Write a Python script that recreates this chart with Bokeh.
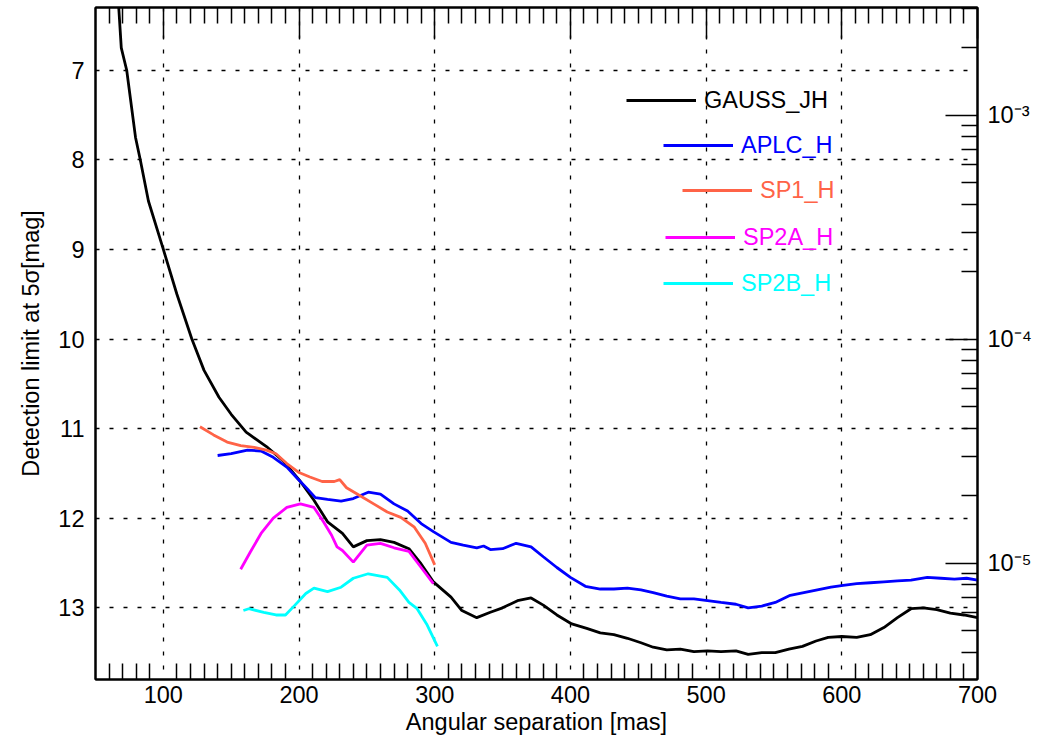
from bokeh.plotting import figure
from bokeh.models import (Range1d, LinearAxis, LogAxis, LogScale, FixedTicker,
                          Legend, LegendItem, CustomJSTickFormatter, CustomLabelingPolicy)
from bokeh.embed import file_html
from bokeh.resources import INLINE

# ---------------- data ----------------
gauss_x = [66.3, 69, 73, 79.5, 83, 89, 100, 110, 121, 130,
           141, 150, 161, 176, 189, 201, 211, 221, 232, 240,
           250, 260, 270, 281, 290, 299, 312, 320, 331, 341,
           350, 361, 371, 380, 390, 401, 412, 422, 432, 442,
           452, 461, 471, 481, 491, 501, 511, 522, 531, 541,
           551, 561, 571, 581, 590, 600, 611, 621, 631, 641,
           651, 660, 670, 680, 690, 700]
gauss_y = [6.1, 6.75, 7.0, 7.75, 8.0, 8.46, 9.0, 9.5, 10.0, 10.35,
           10.65, 10.84, 11.04, 11.2, 11.37, 11.59, 11.8, 12.04, 12.17, 12.32,
           12.25, 12.24, 12.27, 12.34, 12.51, 12.71, 12.88, 13.03, 13.11, 13.05,
           13.0, 12.92, 12.89, 12.97, 13.08, 13.18, 13.23, 13.28, 13.30, 13.34,
           13.39, 13.44, 13.47, 13.46, 13.49, 13.48, 13.49, 13.48, 13.52, 13.50,
           13.50, 13.46, 13.43, 13.37, 13.33, 13.32, 13.33, 13.30, 13.22, 13.11,
           13.01, 13.0, 13.02, 13.06, 13.08, 13.11]

aplc_x = [140, 150, 162, 172, 181, 191, 199, 206, 212, 221,
          231, 240, 251, 260, 270, 280, 290, 299, 312, 321,
          331, 336, 341, 350, 360, 371, 380, 390, 400, 411,
          422, 432, 442, 452, 461, 471, 481, 491, 501, 511,
          522, 531, 541, 551, 562, 572, 582, 592, 601, 611,
          621, 631, 641, 651, 663, 673, 683, 692, 700]
aplc_y = [11.30, 11.28, 11.24, 11.25, 11.32, 11.43, 11.56, 11.67, 11.77, 11.79,
          11.81, 11.78, 11.71, 11.73, 11.84, 11.92, 12.06, 12.15, 12.27, 12.30,
          12.33, 12.31, 12.35, 12.34, 12.28, 12.32, 12.43, 12.55, 12.66, 12.76,
          12.79, 12.79, 12.78, 12.80, 12.83, 12.87, 12.90, 12.90, 12.92, 12.94,
          12.96, 13.0, 12.98, 12.94, 12.86, 12.83, 12.80, 12.77, 12.75, 12.73,
          12.72, 12.71, 12.70, 12.69, 12.66, 12.67, 12.68, 12.67, 12.69]

sp1_x = [127, 137, 147, 157, 167, 176, 183, 191, 200, 208,
         217, 226, 230, 235, 245, 255, 265, 275, 285, 293, 300]
sp1_y = [10.98, 11.07, 11.15, 11.19, 11.21, 11.24, 11.28, 11.39, 11.49, 11.54,
         11.59, 11.59, 11.57, 11.66, 11.75, 11.84, 11.93, 11.99, 12.10, 12.28, 12.52]

sp2a_x = [157, 164, 172, 181, 191, 201, 211, 218, 224, 228,
          232, 240, 250, 260, 270, 281, 290, 299]
sp2a_y = [12.57, 12.38, 12.17, 12.0, 11.88, 11.84, 11.88, 12.04, 12.19, 12.32,
          12.36, 12.49, 12.30, 12.28, 12.33, 12.37, 12.55, 12.73]

sp2b_x = [159, 163, 174, 183, 190, 197, 205, 211, 221, 231,
          240, 251, 265, 274, 281, 287, 294, 302]
sp2b_y = [13.03, 13.01, 13.05, 13.08, 13.08, 12.97, 12.84, 12.78, 12.82, 12.77,
          12.67, 12.62, 12.66, 12.80, 12.94, 13.01, 13.18, 13.43]

series_names = ["GAUSS_JH", "APLC_H", "SP1_H", "SP2A_H", "SP2B_H"]
series_colors = ["#000000", "#0000ff", "#ff6347", "#ff00ff", "#00ffff"]

x_major = [100, 200, 300, 400, 500, 600, 700]
x_minor = [v for v in range(60, 701, 10) if v % 100 != 0]
y_major = [7, 8, 9, 10, 11, 12, 13]
contrast_major = [1e-5, 1e-4, 1e-3]
contrast_minor = [m * 10.0 ** e for e in (-6, -5, -4, -3) for m in range(2, 10)]

x_lim = (50, 700)
mag_lim = (13.8, 6.3)   # bottom, top

FONT = "Liberation Sans"
FS = "23.5px"

# ---------------- figure ----------------
p = figure(frame_width=882, frame_height=672,
           x_range=Range1d(*x_lim), y_range=Range1d(*mag_lim),
           output_backend="svg", toolbar_location=None,
           min_border_left=95, min_border_right=50,
           min_border_top=7, min_border_bottom=0)
p.extra_y_ranges = {"contrast": Range1d(10 ** (-0.4 * mag_lim[0]), 10 ** (-0.4 * mag_lim[1]))}
p.extra_y_scales = {"contrast": LogScale()}
p.outline_line_color = "black"
p.outline_line_width = 2
p.background_fill_color = "white"
p.border_fill_color = "white"

# bottom axis
xa = p.xaxis[0]
xa.ticker = FixedTicker(ticks=x_major, minor_ticks=x_minor)
xa.major_tick_in = 0
xa.major_tick_out = 0
xa.minor_tick_in = 16
xa.minor_tick_out = 0
xa.minor_tick_line_width = 1.5
xa.minor_tick_line_color = "black"
xa.axis_line_width = 2
xa.axis_line_color = "black"
xa.major_label_text_font = FONT
xa.major_label_text_font_size = FS
xa.major_label_text_color = "black"
xa.major_label_standoff = 6
xa.axis_label = "Angular separation [mas]"
xa.axis_label_text_font = FONT
xa.axis_label_text_font_size = FS
xa.axis_label_text_font_style = "normal"
xa.axis_label_text_color = "black"
xa.axis_label_standoff = 3

# left axis
ya = p.yaxis[0]
ya.ticker = FixedTicker(ticks=y_major)
ya.major_tick_in = 0
ya.major_tick_out = 0
ya.minor_tick_in = 0
ya.minor_tick_out = 0
ya.axis_line_width = 2
ya.axis_line_color = "black"
ya.major_label_text_font = FONT
ya.major_label_text_font_size = FS
ya.major_label_text_color = "black"
ya.major_label_standoff = 11
ya.axis_label = "Detection limit at 5σ[mag]"
ya.axis_label_text_font = FONT
ya.axis_label_text_font_size = FS
ya.axis_label_text_font_style = "normal"
ya.axis_label_text_color = "black"
ya.axis_label_standoff = 11

# top axis (ticks only, labels suppressed by the labeling policy)
ta = LinearAxis(ticker=FixedTicker(ticks=x_major, minor_ticks=x_minor))
ta.major_tick_in = 31
ta.major_tick_out = 0
ta.minor_tick_in = 16
ta.minor_tick_out = 0
ta.major_tick_line_width = 1.5
ta.minor_tick_line_width = 1.5
ta.axis_line_width = 2
ta.major_label_standoff = 0
ta.major_label_text_font_size = "1px"
ta.major_label_policy = CustomLabelingPolicy(code="""
const n = indices.size;
for (let i = 0; i < n; i++) indices.unset(i);
return indices;
""")
p.add_layout(ta, "above")

# right contrast axis
ra = LogAxis(y_range_name="contrast",
             ticker=FixedTicker(ticks=contrast_major, minor_ticks=contrast_minor))
ra.formatter = CustomJSTickFormatter(code="""
const e = Math.round(Math.log10(tick));
const sup = {'-': '\u207b', '0': '\u2070', '1': '\u00b9', '2': '\u00b2', '3': '\u00b3',
             '4': '\u2074', '5': '\u2075', '6': '\u2076', '7': '\u2077', '8': '\u2078', '9': '\u2079'};
return '10' + String(e).split('').map(c => sup[c]).join('');
""")
ra.major_tick_in = 32
ra.major_tick_out = 0
ra.minor_tick_in = 16
ra.minor_tick_out = 0
ra.major_tick_line_width = 1.5
ra.minor_tick_line_width = 1.5
ra.axis_line_width = 2
ra.major_label_text_font = FONT
ra.major_label_text_font_size = FS
ra.major_label_text_color = "black"
ra.major_label_standoff = 10
p.add_layout(ra, "right")

# grids
for g in (p.xgrid[0], p.ygrid[0]):
    g.grid_line_color = "black"
    g.grid_line_width = 1.3
    g.grid_line_dash = "4 10"
p.xgrid[0].ticker = FixedTicker(ticks=x_major[:-1])

# ---------------- lines ----------------
xs = [gauss_x, aplc_x, sp1_x, sp2a_x, sp2b_x]
ys = [gauss_y, aplc_y, sp1_y, sp2a_y, sp2b_y]
renderers = []
for x, y, c in zip(xs, ys, series_colors):
    r = p.line(x, y, line_color=c, line_width=2.8)
    renderers.append(r)

# legend: one entry per box, right-justified as in the reference
legend_locs = [(531, 564), (568, 519), (587, 474), (570, 427), (568, 381)]
for name, c, r, loc in zip(series_names, series_colors, renderers, legend_locs):
    lg = Legend(items=[LegendItem(label=name, renderers=[r])], location=loc,
                glyph_width=70, glyph_height=30, label_height=30,
                label_standoff=8, padding=0, margin=0, spacing=0,
                border_line_color=None, background_fill_alpha=0,
                label_text_font=FONT, label_text_font_size=FS,
                label_text_color=c)
    p.add_layout(lg, "center")

open("out.html", "w").write(file_html(p, INLINE))
